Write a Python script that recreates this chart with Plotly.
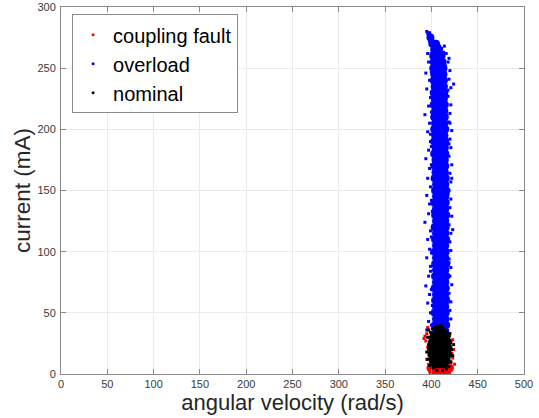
import plotly.graph_objects as go

# ---------------- data ----------------
series_names = ["coupling fault", "overload", "nominal"]
series_colors = ["#ff0000", "#0000ff", "#000000"]

x_ticks = [0, 50, 100, 150, 200, 250, 300, 350, 400, 450, 500]
y_ticks = [0, 50, 100, 150, 200, 250, 300]

# dense part of each cloud, as rows: (current, [angular velocities])
fault_rows = [
    (2, [401, 406.5, 412, 417]),
    (5, [399, 420]),
]
overload_rows = [
    (30, [403.5, 409.5, 415.5]), (35, [405, 410, 415]),
    (40, [404, 410, 416]), (45, [405, 410.5, 415]),
    (50, [403.5, 409.5, 415.5]), (55, [405, 410, 415]),
    (60, [404, 410, 416]), (65, [405, 410.5, 415]),
    (70, [403.5, 409.5, 415.5]), (75, [405, 410, 415]),
    (80, [404, 410, 416]), (85, [405, 410.5, 415]),
    (90, [404, 410, 416]), (95, [405, 410, 415]),
    (100, [403.5, 409.5, 415.5]), (105, [405, 410.5, 415]),
    (110, [404, 410, 416]), (115, [405, 410, 415]),
    (120, [403.5, 409.5, 415.5]), (125, [405, 410.5, 415]),
    (130, [404, 410, 416]), (135, [405, 410, 415]),
    (140, [403.5, 409.5, 415.5]), (145, [405, 410.5, 415]),
    (150, [404, 410, 416]), (155, [405, 410, 415]),
    (160, [403.5, 409.5, 415.5]), (165, [404.5, 409.5, 414.5]),
    (170, [403.5, 409.5, 415]), (175, [404.5, 409.5, 414.5]),
    (180, [403, 409, 415]), (185, [404.5, 409.5, 414.5]),
    (190, [403, 409, 415]), (195, [404, 409, 414]),
    (200, [403, 409, 415]), (205, [404, 409, 414]),
    (210, [403, 409, 414.5]), (215, [404, 409, 414]),
    (220, [402.5, 408.5, 414.5]), (225, [403.5, 408.5, 413.5]),
    (230, [402.5, 408.5, 414]), (235, [403.5, 408.5, 413.5]),
    (240, [402.5, 408, 413.5]), (245, [403, 408, 413]),
    (250, [402, 407.5, 413]), (255, [402.5, 407.5, 412]),
    (260, [402, 407, 411]), (265, [403, 408]),
    (270, [401, 405]), (275, [399]),
]
nominal_rows = [
    (36, [406.5, 410.5]),
    (31, [402.5, 408, 413.5, 416.5]),
    (26, [400.5, 405.5, 411, 416.5, 418]),
    (21, [399.5, 405, 410.5, 416, 418.5]),
    (16, [400, 405.5, 411, 416.5, 418]),
    (11, [401.5, 407, 412.5, 416.5]),
    (8, [404, 409, 414]),
]

# sparse outlying samples: angular velocity, current
fault_x = [400, 403, 406, 409, 412, 415, 418, 420, 421, 423, 422, 398, 397,
           395, 394, 393, 395, 392, 396, 424, 425, 419, 402, 396, 423, 399,
           420, 417, 404, 410]
fault_y = [1, 0.5, 0, 1, 0.5, 1, 2, 5, 9, 13, 17, 4, 8, 12, 27, 31, 33,
           29, 38, 20, 8, 1, 2, 22, 28, 6, 3, 4, 1.5, 2.5]

overload_x = [398, 396, 397, 394, 398, 395, 399, 397, 393, 398, 396, 399,
              397, 394, 398, 396, 399, 395, 398, 397, 393, 399, 396, 398,
              395, 399, 397, 394, 398, 396, 399, 397, 395, 398, 400, 400,
              400, 400, 400, 400, 400, 400,
              414, 416, 418, 420, 419, 421, 418, 421, 420, 419, 422, 420,
              421, 419, 422, 420, 421, 419, 421, 420, 422, 419, 421, 420,
              421, 419, 421, 420, 422, 419, 421, 420, 421, 419, 420, 422,
              423, 424,
              395, 396, 397, 399, 401, 403, 406, 409, 411, 413, 398,
              401, 399, 400, 401, 399, 401, 400, 418, 419, 418, 419, 418,
              412, 404, 415, 407, 410]
overload_y = [272, 262, 255, 246, 240, 233, 226, 219, 212, 205, 198, 190,
              183, 176, 168, 160, 153, 146, 139, 131, 124, 117, 110, 102,
              95, 88, 80, 72, 65, 58, 50, 43, 36, 30, 262, 247, 214, 186,
              142, 99, 69, 40,
              268, 262, 255, 248, 241, 234, 227, 220, 213, 206, 199, 192,
              185, 178, 171, 164, 157, 150, 143, 136, 129, 122, 115, 108,
              101, 94, 87, 80, 73, 66, 59, 52, 45, 258, 205, 160, 118, 237,
              280, 278, 276, 277, 274, 272, 270, 268, 266, 263, 279,
              228, 196, 171, 133, 84, 56, 112, 232, 188, 147, 91, 62,
              262, 259, 252, 264, 266]

nominal_x = [396, 397, 395, 396, 398, 399, 401, 404, 407, 410, 413, 416,
             419, 421, 422, 423, 421, 419, 416, 412, 406, 402, 420, 397, 424]
nominal_y = [30, 24, 18, 12, 7, 34, 37, 38, 39, 40, 37, 35, 31, 26, 20,
             15, 10, 6, 4, 3, 3, 5, 33, 36, 24]


def flatten(rows):
    xs, ys = [], []
    for yv, xl in rows:
        for xv in xl:
            xs.append(xv)
            ys.append(yv)
    return xs, ys


dense = [flatten(fault_rows), flatten(overload_rows), flatten(nominal_rows)]
sparse = [(fault_x, fault_y), (overload_x, overload_y), (nominal_x, nominal_y)]

fig = go.Figure()
for i in range(3):
    dx, dy = dense[i]
    sx, sy = sparse[i]
    fig.add_trace(go.Scatter(x=dx, y=dy, mode="markers", showlegend=False,
                             marker=dict(color=series_colors[i], size=8,
                                         line=dict(width=0)),
                             hoverinfo="skip"))
    fig.add_trace(go.Scatter(x=sx, y=sy, mode="markers", showlegend=False,
                             marker=dict(color=series_colors[i], size=3,
                                         symbol="square",
                                         line=dict(width=0)),
                             hoverinfo="skip"))
for i in range(3):
    fig.add_trace(go.Scatter(x=[None], y=[None], mode="markers",
                             name=series_names[i],
                             marker=dict(color=series_colors[i], size=3)))

font_family = "Liberation Sans, Arial, Helvetica, sans-serif"
axis_common = dict(
    showgrid=True, gridcolor="#ebebeb", gridwidth=1,
    zeroline=False, showline=True, linecolor="#8a8a8a", linewidth=1,
    mirror="ticks", ticks="inside", ticklen=5, tickcolor="#8a8a8a",
    tickfont=dict(family=font_family, size=11, color="#3a3a3a"),
    automargin=False,
)

fig.update_layout(
    width=539, height=418,
    margin=dict(l=61, r=15, t=7, b=44),
    paper_bgcolor="white", plot_bgcolor="white",
    font=dict(family=font_family, color="#262626"),
    xaxis=dict(range=[0, 500], tickvals=x_ticks,
               title=dict(text="angular velocity (rad/s)",
                          font=dict(size=22, color="#262626"), standoff=2),
               **axis_common),
    yaxis=dict(range=[0, 300], tickvals=y_ticks,
               title=dict(text="current (mA)",
                          font=dict(size=22.5, color="#262626"), standoff=0),
               ticklabelstandoff=2,
               **axis_common),
    legend=dict(x=0.024, y=0.98, xanchor="left", yanchor="top",
                bgcolor="white", bordercolor="#8a8a8a", borderwidth=1,
                font=dict(family=font_family, size=20, color="#000000"),
                tracegroupgap=0, itemsizing="trace"),
)

fig.write_html("out.html")
